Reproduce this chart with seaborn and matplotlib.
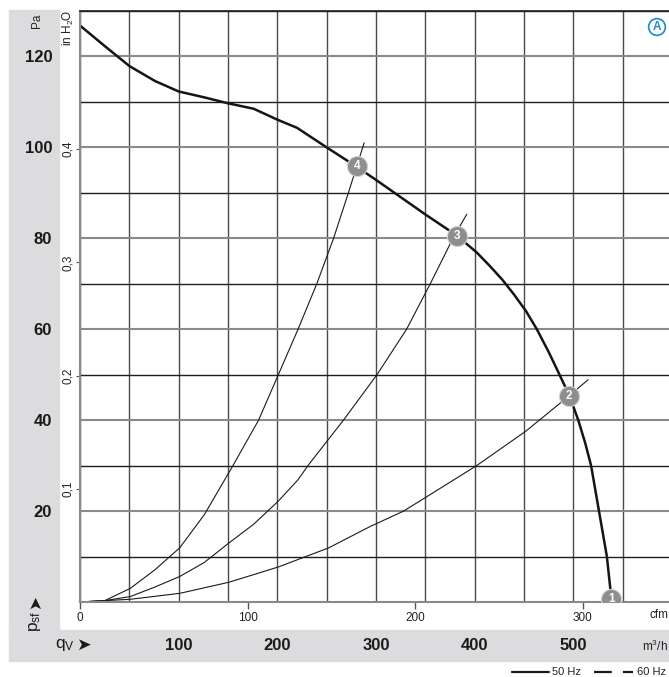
import matplotlib
matplotlib.use('Agg')
import matplotlib.pyplot as plt
from matplotlib.patches import Rectangle
from matplotlib.lines import Line2D
import seaborn as sns

# dados (q em m3/h, p em Pa)
fan_q = [0, 25, 50, 76, 100, 126, 150, 176, 200, 220, 250, 280, 301, 351, 382, 402,
         415, 428, 440, 452, 463, 475, 486, 496, 505, 512, 518, 526, 534, 538, 539]
fan_p = [126.8, 122.3, 117.9, 114.6, 112.3, 111.0, 109.7, 108.5, 106.1, 104.3, 100.0,
         95.8, 92.7, 85.1, 80.6, 76.9, 74.0, 70.9, 67.6, 64.0, 60.0, 55.0, 50.0, 45.4,
         40.0, 35.0, 30.0, 20.0, 10.0, 1.9, 0.0]

sys2_q = [0, 51, 101, 151, 201, 252, 294, 328, 351, 402, 452, 496, 515]
sys2_p = [0, 0.6, 1.9, 4.35, 7.7, 11.9, 16.6, 20.0, 23.1, 30.0, 37.6, 45.4, 48.9]

sys3_q = [0, 25, 51, 76, 101, 126, 151, 176, 201, 221, 231, 267, 301, 331, 355, 378, 392]
sys3_p = [0, 0.3, 1.2, 3.3, 5.6, 8.7, 13.0, 17.1, 22.2, 26.9, 30.0, 40.0, 50.0, 60.0,
          70.0, 80.0, 85.3]

sys4_q = [0, 25, 51, 76, 101, 126, 155, 181, 201, 221, 240, 257, 272, 288]
sys4_p = [0, 0.3, 3.0, 7.1, 11.9, 19.2, 30.0, 40.0, 50.0, 60.0, 70.0, 80.0, 90.0, 101.0]

point_q = [538.6, 495.9, 381.8, 280.4]
point_p = [0.6, 45.4, 80.6, 96.0]
point_labels = ['1', '2', '3', '4']

m3h_ticks = [100, 200, 300, 400, 500]
cfm_ticks = [0, 100, 200, 300]
pa_ticks = [20, 40, 60, 80, 100, 120]
inh2o_ticks = [0.1, 0.2, 0.3, 0.4]
inh2o_labels = ['0,1', '0,2', '0,3', '0,4']

M3H_PER_CFM = 1.699
PA_PER_INH2O = 249.0

sns.set_style('white')
plt.rcParams['font.family'] = ['Liberation Sans', 'DejaVu Sans']

W, H = 669, 677
fig = plt.figure(figsize=(W / 100, H / 100), dpi=100)
fig.patch.set_facecolor('white')


def fx(px):
    return px / W


def fy(py):
    return 1 - py / H


# faixas cinzas
strip = '#dcdcde'
fig.patches.append(Rectangle((fx(9), fy(633)), fx(50), 623 / H, transform=fig.transFigure,
                             color=strip, zorder=-5))
fig.patches.append(Rectangle((fx(9), fy(661)), fx(660), 31 / H, transform=fig.transFigure,
                             color=strip, zorder=-5))

ax = fig.add_axes([fx(80), fy(602), 592 / W, 591 / H])
ax.set_xlim(0, 600)
ax.set_ylim(0, 130)

# grade
ax.set_xticks(range(0, 601, 50))
ax.set_xticklabels([])
ax.set_yticks(pa_ticks)
ax.set_yticks(range(10, 131, 20), minor=True)
ax.set_yticklabels([str(v) for v in pa_ticks], fontweight='bold', fontsize=12)
ax.tick_params(axis='y', which='both', length=0, pad=20, labelcolor='#1a1a1a')
ax.tick_params(axis='x', length=0)
ax.grid(True, axis='x', color='#4a4a4a', lw=1.0)
ax.grid(True, axis='y', which='major', color='#8a8a8a', lw=1.5)
ax.grid(True, axis='y', which='minor', color='#1e1e1e', lw=1.0)
ax.set_axisbelow(True)
for s in ['left', 'bottom']:
    ax.spines[s].set_color('#8a8a8a')
    ax.spines[s].set_linewidth(1.5)
ax.spines['top'].set_color('#1e1e1e')
ax.spines['top'].set_linewidth(1.2)
ax.spines['right'].set_visible(False)

# curvas
thin = dict(color='#1a1a1a', lw=0.8, sort=False, estimator=None, ax=ax)
sns.lineplot(x=sys2_q, y=sys2_p, **thin)
sns.lineplot(x=sys3_q, y=sys3_p, **thin)
sns.lineplot(x=sys4_q, y=sys4_p, **thin)
sns.lineplot(x=fan_q, y=fan_p, color='#151515', lw=1.8, sort=False, estimator=None, ax=ax)

sns.scatterplot(x=point_q, y=point_p, s=210, color='#8e8e8e', edgecolor='#d4d4d4',
                linewidth=0.8, zorder=5, ax=ax)
for q, p, lab in zip(point_q, point_p, point_labels):
    ax.text(q, p, lab, color='white', fontsize=8.5, fontweight='bold',
            ha='center', va='center', zorder=6)
ax.set_xlabel('')
ax.set_ylabel('')

# eixo cfm
sec_x = ax.secondary_xaxis('bottom', functions=(lambda v: v / M3H_PER_CFM,
                                                lambda v: v * M3H_PER_CFM))
sec_x.set_xticks(cfm_ticks)
sec_x.set_xticklabels([str(v) for v in cfm_ticks])
sec_x.tick_params(length=5, width=1.0, color='#555555', labelsize=8.5, pad=2,
                  labelcolor='#222222')
sec_x.spines['bottom'].set_visible(False)

# eixo in H2O
sec_y = ax.secondary_yaxis('left', functions=(lambda v: v / PA_PER_INH2O,
                                              lambda v: v * PA_PER_INH2O))
sec_y.set_yticks(inh2o_ticks)
sec_y.set_yticklabels(inh2o_labels, rotation=90, va='center')
sec_y.tick_params(length=3, width=0.8, color='#555555', labelsize=8.5, pad=1,
                  labelcolor='#222222')
sec_y.spines['left'].set_visible(False)

# rotulos m3/h na faixa inferior
for v in m3h_ticks:
    ax.text(v, -0.073, str(v), transform=ax.get_xaxis_transform(), ha='center',
            va='center', fontsize=12, fontweight='bold', color='#1a1a1a')

fig.text(fx(668), fy(615), 'cfm', fontsize=8.5, va='center', ha='right', color='#222222')
fig.text(fx(668), fy(646), 'm$\\mathregular{^3}$/h', fontsize=8.5, va='center', ha='right',
         color='#222222')
fig.text(fx(37), fy(21), 'Pa', rotation=90, fontsize=8.5, ha='center', va='center',
         color='#222222')
fig.text(fx(68), fy(28), 'in H$\\mathregular{_2}$O', rotation=90, fontsize=8.5,
         ha='center', va='center', color='#222222')
fig.text(fx(35), fy(621), '$\\mathregular{p_{sf}}$', rotation=90, fontsize=12.5,
         ha='center', va='center', color='#1a1a1a')
fig.text(fx(35), fy(602), '➤', rotation=90, fontsize=12, ha='center', va='center',
         color='#1a1a1a', family='DejaVu Sans')
fig.text(fx(65), fy(645), '$\\mathregular{q_V}$', fontsize=12.5, ha='center', va='center',
         color='#1a1a1a')
fig.text(fx(83), fy(645), '➤', fontsize=12.5, ha='center', va='center',
         color='#1a1a1a', family='DejaVu Sans')

# marca A
fig.text(fx(657), fy(27), 'A', fontsize=8.5, fontweight='bold', color='#1a8ad0',
         ha='center', va='center',
         bbox=dict(boxstyle='circle,pad=0.2', fc='white', ec='#1a8ad0', lw=1.2))

# legenda
fig.lines.append(Line2D([fx(512), fx(549)], [fy(672), fy(672)], transform=fig.transFigure,
                        color='#1a1a1a', lw=1.6))
fig.lines.append(Line2D([fx(594), fx(633)], [fy(672), fy(672)], transform=fig.transFigure,
                        color='#1a1a1a', lw=1.6, dashes=(8, 5)))
fig.text(fx(552), fy(672), '50 Hz', fontsize=8, va='center', ha='left', color='#222222')
fig.text(fx(637), fy(672), '60 Hz', fontsize=8, va='center', ha='left', color='#222222')

fig.savefig('out.png', dpi=100)
